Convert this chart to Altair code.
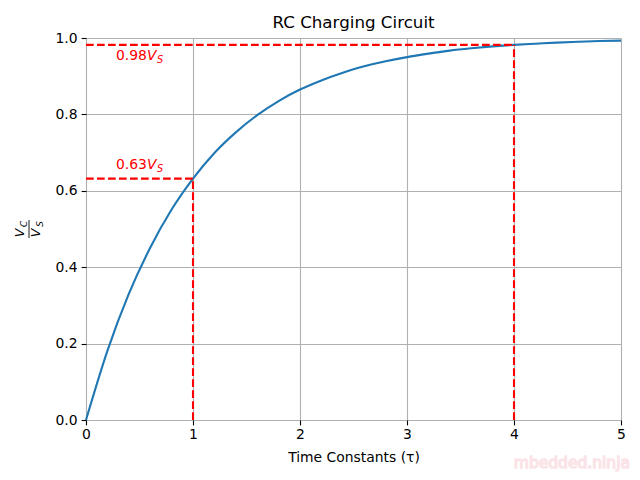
import altair as alt
import pandas as pd

# Curve (time constants vs Vc/Vs)
t_vals = [0.0, 0.2, 0.4, 0.6, 0.8, 1.0, 1.2, 1.4, 1.6, 1.8, 2.0, 2.2, 2.4, 2.6,
          2.8, 3.0, 3.2, 3.4, 3.6, 3.8, 4.0, 4.2, 4.4, 4.6, 4.8, 5.0]
v_vals = [0.0, 0.181, 0.330, 0.451, 0.551, 0.632, 0.699, 0.753, 0.798, 0.835,
          0.865, 0.889, 0.909, 0.926, 0.939, 0.950, 0.959, 0.967, 0.973, 0.978,
          0.982, 0.985, 0.988, 0.990, 0.992, 0.993]

# Dashed guide segments
seg_x = [0, 1, 0, 4]
seg_x2 = [1, 1, 4, 4]
seg_y = [0.632, 0, 0.982, 0]
seg_y2 = [0.632, 0.632, 0.982, 0.982]

# Annotations
ann_num = ["0.63", "0.98"]
ann_x = [0.28, 0.28]
ann_y = [0.657, 0.942]

x_ticks = [0, 1, 2, 3, 4, 5]
y_ticks = [0.0, 0.2, 0.4, 0.6, 0.8, 1.0]

FONT = "DejaVu Sans"
FS = 13.9

curve_df = pd.DataFrame({"t": t_vals, "v": v_vals})
seg_df = pd.DataFrame({"x": seg_x, "x2": seg_x2, "y": seg_y, "y2": seg_y2})
ann_df = pd.DataFrame({"label": ann_num, "x": ann_x, "y": ann_y})

xscale = alt.Scale(domain=[0, 5], nice=False, zero=False)
yscale = alt.Scale(domain=[0, 1], nice=False, zero=False)

curve = alt.Chart(curve_df).mark_line(
    color="#1f77b4", strokeWidth=2.1, interpolate="monotone"
).encode(
    x=alt.X("t:Q", scale=xscale,
            axis=alt.Axis(values=x_ticks, title="Time Constants (τ)", format="d",
                          grid=True, gridColor="#b0b0b0", gridWidth=1.1,
                          domain=False, tickColor="black", tickWidth=1.1, tickSize=4.9,
                          labelFont=FONT, labelFontSize=FS, labelColor="black",
                          labelPadding=3, titleFont=FONT, titleFontSize=FS,
                          titleFontWeight="normal", titleColor="black", titlePadding=9,
                          labelFlush=False)),
    y=alt.Y("v:Q", scale=yscale,
            axis=alt.Axis(values=y_ticks, title=None, format=".1f",
                          grid=True, gridColor="#b0b0b0", gridWidth=1.1,
                          domain=False, tickColor="black", tickWidth=1.1, tickSize=4.9,
                          labelFont=FONT, labelFontSize=FS, labelColor="black",
                          labelPadding=4, labelFlush=False)),
)

segs = alt.Chart(seg_df).mark_rule(
    color="red", strokeWidth=2.1, strokeDash=[7.7, 3.3]
).encode(
    x=alt.X("x:Q", scale=xscale), x2="x2:Q",
    y=alt.Y("y:Q", scale=yscale), y2="y2:Q",
)

ann_base = alt.Chart(ann_df).encode(
    x=alt.X("x:Q", scale=xscale), y=alt.Y("y:Q", scale=yscale)
)
ann_n = ann_base.mark_text(align="left", baseline="alphabetic", font=FONT,
                           fontSize=FS, color="red").encode(text="label:N")
ann_v = ann_base.mark_text(align="left", baseline="alphabetic", font=FONT,
                           fontSize=FS, fontStyle="italic", color="red", dx=31,
                           text="V")
ann_s = ann_base.mark_text(align="left", baseline="alphabetic", font=FONT,
                           fontSize=9.7, fontStyle="italic", color="red", dx=41, dy=3,
                           text="S")

# y-axis label as a fraction Vc / Vs (rotated), title and watermark
ylab_df = pd.DataFrame({"k": [0]})
yl = alt.Chart(ylab_df)
num_v = yl.mark_text(angle=270, align="center", baseline="middle", font=FONT,
                     fontSize=12.5, fontStyle="italic", color="black", text="V"
                     ).encode(x=alt.value(20 - 86), y=alt.value(233 - 38))
num_c = yl.mark_text(angle=270, align="center", baseline="middle", font=FONT,
                     fontSize=8.8, fontStyle="italic", color="black", text="C"
                     ).encode(x=alt.value(24 - 86), y=alt.value(224 - 38))
frac = yl.mark_rule(color="black", strokeWidth=0.9).encode(
    x=alt.value(29 - 86), y=alt.value(220 - 38), y2=alt.value(238 - 38))
den_v = yl.mark_text(angle=270, align="center", baseline="middle", font=FONT,
                     fontSize=12.5, fontStyle="italic", color="black", text="V"
                     ).encode(x=alt.value(36 - 86), y=alt.value(233 - 38))
den_s = yl.mark_text(angle=270, align="center", baseline="middle", font=FONT,
                     fontSize=8.8, fontStyle="italic", color="black", text="S"
                     ).encode(x=alt.value(40 - 86), y=alt.value(224 - 38))

title = yl.mark_text(align="center", baseline="alphabetic", font=FONT,
                     fontSize=16.7, color="black", text="RC Charging Circuit"
                     ).encode(x=alt.value(535 / 2), y=alt.value(28 - 38))

watermark = yl.mark_text(align="right", baseline="alphabetic", font=FONT,
                         fontSize=15.5, color="#f4c2ca",
                         stroke="#fbe4e8", strokeWidth=1.4, text="mbedded.ninja"
                         ).encode(x=alt.value(630 - 86), y=alt.value(468 - 38))

chart = alt.layer(
    curve, segs, ann_n, ann_v, ann_s, num_v, num_c, frac, den_v, den_s,
    title, watermark
).properties(
    width=535, height=382,
    autosize=alt.AutoSizeParams(type="none"),
    padding={"left": 78, "top": 30, "right": 10, "bottom": 52},
).configure_view(
    stroke="black", strokeWidth=1.1
).configure(background="white")

chart.save("out.html", embed_options={"renderer": "svg", "actions": False})
